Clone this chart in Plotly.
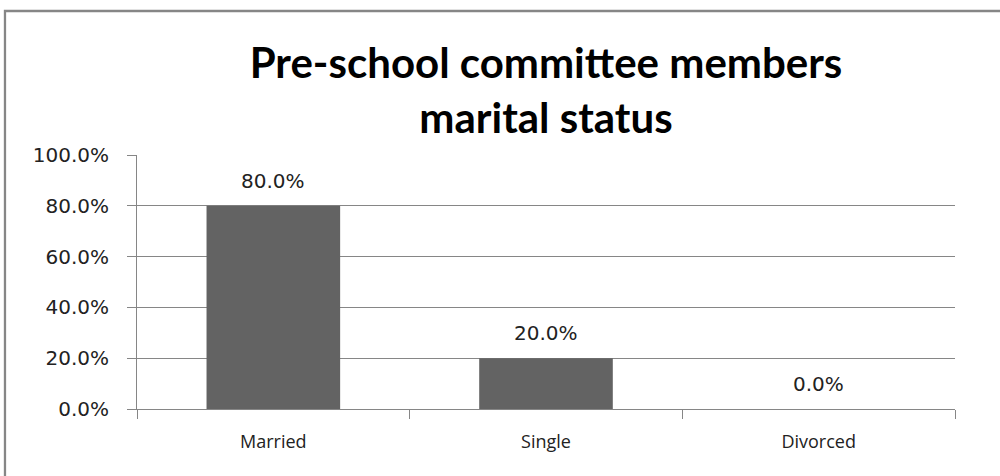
import plotly.graph_objects as go

categories = ["Married", "Single", "Divorced"]
values = [0.80, 0.20, 0.0]
labels = ["80.0%", "20.0%", "0.0%"]

num_font = "'DejaVu Sans', sans-serif"
txt_font = "'Open Sans', sans-serif"

fig = go.Figure()
fig.add_trace(go.Bar(x=categories, y=values, marker_color="#636363",
                     marker_line_width=0, width=0.49, showlegend=False))

# data labels above each bar
for c, v, t in zip(categories, values, labels):
    fig.add_annotation(x=c, y=v, text=t, showarrow=False, yshift=25,
                       font=dict(size=20, color="#222222", family=num_font))

# outer chart border (only left and top edges are in view)
fig.add_shape(type="rect", xref="paper", yref="paper", x0=-0.1614, x1=1.2,
              y0=-0.5, y1=1.567, line=dict(color="#868686", width=2.3))

fig.update_layout(
    width=1000, height=476,
    margin=dict(l=137, r=45, t=155, b=67),
    plot_bgcolor="white", paper_bgcolor="white",
    title=dict(text="Pre-school committee members<br>marital status",
               x=0.5, xref="paper", xanchor="center",
               y=1 - 78 / 476, yref="container", yanchor="middle",
               font=dict(size=42, color="black", family="Lato", weight="bold")),
    font=dict(family=txt_font, size=18, color="#222222"),
    bargap=0.51,
)
fig.update_yaxes(range=[0, 1], dtick=0.2, tickformat=".1%", showgrid=True,
                 gridcolor="#868686", gridwidth=1, showline=True, linecolor="#868686",
                 ticks="outside", ticklen=9, tickcolor="#868686", zeroline=False,
                 ticklabelstandoff=14,
                 tickfont=dict(size=20, family=num_font, color="#222222"))
fig.update_xaxes(tickson="boundaries", ticks="outside", ticklen=9, tickcolor="#868686",
                 showline=True, linecolor="#868686", showgrid=False,
                 ticklabelstandoff=16,
                 tickfont=dict(size=18, family=txt_font, color="#222222"))

fig.write_html("out.html", config={"displayModeBar": False},
               post_script="document.body.style.margin='0';")
